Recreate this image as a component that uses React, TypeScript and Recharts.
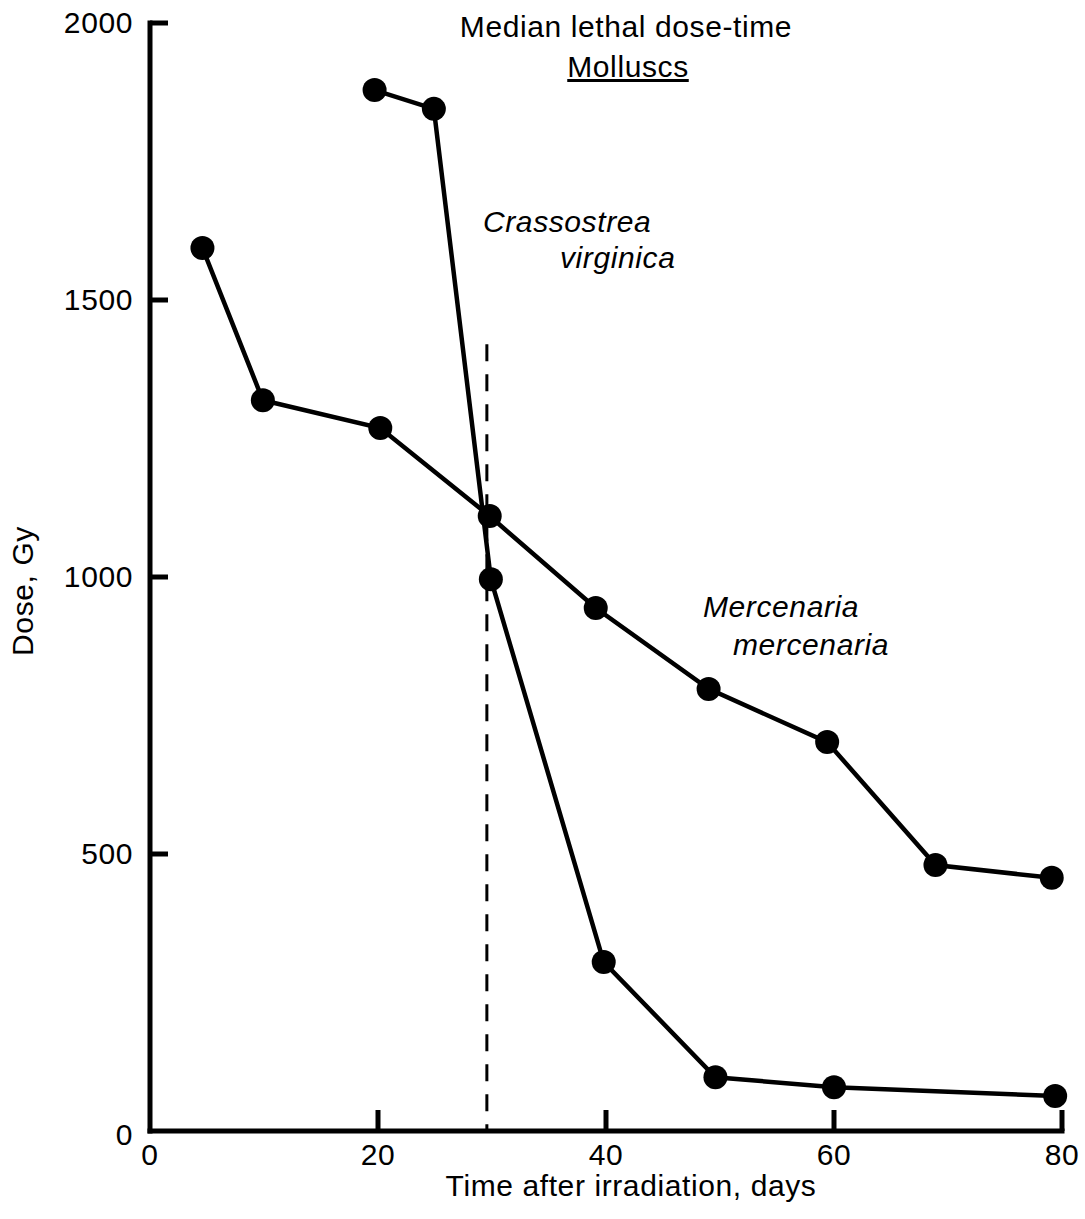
import React from 'react';
import { LineChart, Line, XAxis, YAxis, ReferenceLine } from 'recharts';

const FONT = '"Liberation Sans", Arial, Helvetica, sans-serif';

// Mercenaria mercenaria
const MERC_DAYS = [4.6, 9.9, 20.2, 29.8, 39.1, 49.0, 59.4, 68.9, 79.1];
const MERC_DOSE = [1594, 1319, 1269, 1110, 944, 798, 702, 480, 457];

// Crassostrea virginica
const CRASS_DAYS = [19.7, 24.9, 29.9, 39.8, 49.6, 60.0, 79.4];
const CRASS_DOSE = [1879, 1845, 996, 305, 97, 79, 63];

const X_TICKS = [0, 20, 40, 60, 80];
const Y_TICKS = [0, 500, 1000, 1500, 2000];

// dashed marker line
const MARK_DAY = 29.55;
const MARK_TOP = 1420;

const mercData = MERC_DAYS.map((d, i) => ({ day: d, dose: MERC_DOSE[i] }));
const crassData = CRASS_DAYS.map((d, i) => ({ day: d, dose: CRASS_DOSE[i] }));

const FS = 30;
const LS = 0.6;

const XTick = (props: any) => {
  const { x, y, payload } = props;
  const v = payload.value;
  return (
    <g>
      {v !== 0 && <line x1={x} x2={x} y1={y} y2={y - 21} stroke="#000" strokeWidth={5} />}
      <text x={x} y={y + 34} textAnchor="middle" fontSize={FS} fontFamily={FONT} letterSpacing={LS} fill="#000">
        {v}
      </text>
    </g>
  );
};

const YTick = (props: any) => {
  const { x, y, payload } = props;
  const v = payload.value;
  return (
    <g>
      {v !== 0 && <line x1={x} x2={x + 18} y1={y} y2={y} stroke="#000" strokeWidth={5} />}
      <text x={x - 17} y={y + (v === 0 ? 14 : 10)} textAnchor="end" fontSize={FS} fontFamily={FONT} letterSpacing={LS} fill="#000">
        {v}
      </text>
    </g>
  );
};

const dot = { r: 12, fill: '#000', stroke: 'none' };

export default function App() {
  const txt = { fontFamily: FONT, fontSize: FS, letterSpacing: LS, fill: '#000' } as const;
  return (
    <div style={{ position: 'absolute', left: 0, top: 0, width: 1085, height: 1219, background: '#fff' }}>
      <LineChart width={1085} height={1219} margin={{ top: 23, right: 23, bottom: 87, left: 149 }}>
        <XAxis
          type="number"
          dataKey="day"
          domain={[0, 80]}
          ticks={X_TICKS}
          interval={0}
          height={1}
          tickSize={0}
          tickMargin={0}
          tickLine={false}
          tick={<XTick />}
          axisLine={{ stroke: '#000', strokeWidth: 5, strokeLinecap: 'square' }}
        />
        <YAxis
          type="number"
          dataKey="dose"
          domain={[0, 2000]}
          ticks={Y_TICKS}
          interval={0}
          width={1}
          tickSize={0}
          tickMargin={0}
          tickLine={false}
          tick={<YTick />}
          axisLine={{ stroke: '#000', strokeWidth: 5, strokeLinecap: 'square' }}
        />
        <ReferenceLine
          segment={[{ x: MARK_DAY, y: MARK_TOP }, { x: MARK_DAY, y: 0 }]}
          stroke="#000"
          strokeWidth={3}
          strokeDasharray="17 13"
        />
        <Line
          data={mercData}
          dataKey="dose"
          type="linear"
          stroke="#000"
          strokeWidth={4.5}
          dot={dot}
          activeDot={false}
          isAnimationActive={false}
        />
        <Line
          data={crassData}
          dataKey="dose"
          type="linear"
          stroke="#000"
          strokeWidth={4.5}
          dot={dot}
          activeDot={false}
          isAnimationActive={false}
        />
      </LineChart>
      <svg width={1085} height={1219} style={{ position: 'absolute', left: 0, top: 0, pointerEvents: 'none' }}>
        <text x={626} y={37} textAnchor="middle" {...txt}>Median lethal dose-time</text>
        <text x={628} y={77} textAnchor="middle" {...txt} style={{ textDecoration: 'underline' }}>Molluscs</text>
        <text x={483} y={232} {...txt} fontStyle="italic">Crassostrea</text>
        <text x={560} y={268} {...txt} fontStyle="italic">virginica</text>
        <text x={703} y={617} {...txt} fontStyle="italic">Mercenaria</text>
        <text x={733} y={655} {...txt} fontStyle="italic">mercenaria</text>
        <text x={631} y={1196} textAnchor="middle" {...txt}>Time after irradiation, days</text>
        <text transform="translate(33, 591) rotate(-90)" x={0} y={0} textAnchor="middle" {...txt}>Dose, Gy</text>
      </svg>
    </div>
  );
}
